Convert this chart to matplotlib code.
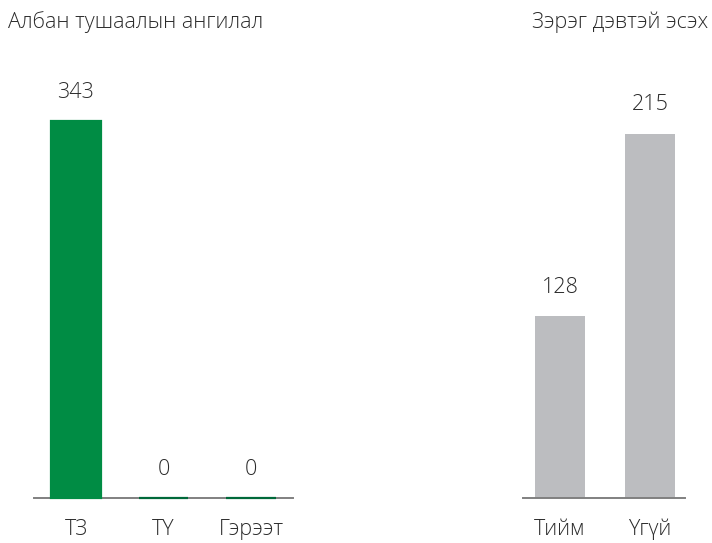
import matplotlib
matplotlib.use("Agg")
import matplotlib.pyplot as plt

# Data
left_title = "Албан тушаалын ангилал"
left_cats = ["ТЗ", "ТҮ", "Гэрээт"]
left_vals = [343, 0, 0]

right_title = "Зэрэг дэвтэй эсэх"
right_cats = ["Тийм", "Үгүй"]
right_vals = [128, 215]

plt.rcParams['font.family'] = ['Open Sans', 'DejaVu Sans']
TEXT = "#2b2b2b"
GREEN = "#008C44"
GREEN_DARK = "#00693A"
GRAY = "#BCBDC0"
AXIS = "#808080"
FS = 15.5

W, H = 712, 543
fig = plt.figure(figsize=(W / 100, H / 100), dpi=100)

def px_axes(x0, x1, y_top, y_bot):
    return fig.add_axes([x0 / W, 1 - y_bot / H, (x1 - x0) / W, (y_bot - y_top) / H])

def style(ax, cats):
    for s in ["left", "right", "top"]:
        ax.spines[s].set_visible(False)
    ax.spines["bottom"].set_color(AXIS)
    ax.spines["bottom"].set_linewidth(1.4)
    ax.spines["bottom"].set_zorder(1)
    ax.set_yticks([])
    ax.set_xticks(range(len(cats)))
    ax.set_xticklabels(cats, fontsize=FS, color=TEXT, fontweight="light")
    ax.tick_params(axis="x", length=0, pad=15)

def labels(ax, xs, vals, lo):
    for x, v in zip(xs, vals):
        ax.annotate(f"{v}", (x, max(v, lo)), xytext=(0, 13), textcoords="offset points",
                    ha="center", va="bottom", fontsize=FS, color=TEXT, fontweight="light")

# Left panel
axL = px_axes(34, 293, 100, 498)
xs = list(range(len(left_cats)))
edge = [GREEN_DARK if v == 0 else GREEN for v in left_vals]
axL.bar(xs, left_vals, width=0.57, color=GREEN, edgecolor=edge, linewidth=1.6,
        zorder=3, clip_on=False)
axL.set_xlim(-0.48, 2.48)
axL.set_ylim(0, 362)
style(axL, left_cats)
labels(axL, xs, left_vals, 0)

# Right panel
axR = px_axes(523, 685, 100, 498)
xr = list(range(len(right_cats)))
axR.bar(xr, right_vals, width=0.555, color=GRAY, linewidth=0, zorder=0)
axR.set_xlim(-0.41, 1.39)
lo = 41
axR.set_ylim(lo, 231)
style(axR, right_cats)
labels(axR, xr, right_vals, lo)

fig.text(8 / W, 1 - 22 / H, left_title, ha="left", va="center", fontsize=FS,
         color=TEXT, fontweight="light")
fig.text(708 / W, 1 - 22 / H, right_title, ha="right", va="center", fontsize=FS,
         color=TEXT, fontweight="light")

fig.savefig("out.png", dpi=100, facecolor="white")
